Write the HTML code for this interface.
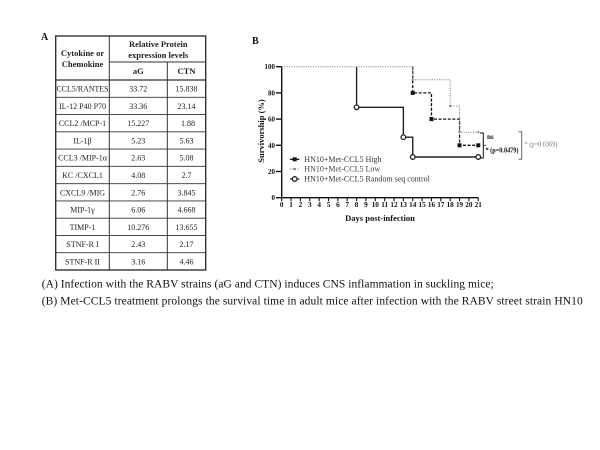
<!DOCTYPE html>
<html><head><meta charset="utf-8"><style>
html,body{margin:0;padding:0;background:#fff;}
svg{display:block;}
text{font-family:"Liberation Serif",serif;}
</style></head><body>
<svg width="600" height="450" viewBox="0 0 600 450" xmlns="http://www.w3.org/2000/svg">
<rect width="600" height="450" fill="#fff"/>
<!-- Panel A -->
<text x="41" y="40" font-size="10" font-weight="bold" fill="#111">A</text>
<g stroke="#333" fill="none">
<rect x="55.7" y="36" width="150" height="234" stroke-width="1.4"/>
<line x1="109.3" y1="36" x2="109.3" y2="270" stroke-width="1"/>
<line x1="167.3" y1="62" x2="167.3" y2="270" stroke-width="1"/>
<line x1="109.3" y1="62" x2="205.7" y2="62" stroke-width="1"/>
<line x1="55.7" y1="80" x2="205.7" y2="80" stroke-width="1.2"/>
<line x1="55.7" y1="97.27" x2="205.7" y2="97.27" stroke-width="0.9"/>
<line x1="55.7" y1="114.55" x2="205.7" y2="114.55" stroke-width="0.9"/>
<line x1="55.7" y1="131.82" x2="205.7" y2="131.82" stroke-width="0.9"/>
<line x1="55.7" y1="149.09" x2="205.7" y2="149.09" stroke-width="0.9"/>
<line x1="55.7" y1="166.36" x2="205.7" y2="166.36" stroke-width="0.9"/>
<line x1="55.7" y1="183.64" x2="205.7" y2="183.64" stroke-width="0.9"/>
<line x1="55.7" y1="200.91" x2="205.7" y2="200.91" stroke-width="0.9"/>
<line x1="55.7" y1="218.18" x2="205.7" y2="218.18" stroke-width="0.9"/>
<line x1="55.7" y1="235.45" x2="205.7" y2="235.45" stroke-width="0.9"/>
<line x1="55.7" y1="252.73" x2="205.7" y2="252.73" stroke-width="0.9"/>
</g>
<g font-size="8.5" font-weight="bold" fill="#222" text-anchor="middle">
<text x="82.5" y="56">Cytokine or</text>
<text x="82.5" y="67">Chemokine</text>
<text x="158.3" y="47">Relative Protein</text>
<text x="158.3" y="58">expression levels</text>
<text x="138.3" y="74">aG</text>
<text x="186.5" y="74">CTN</text>
</g>
<g font-size="8" fill="#222" text-anchor="middle">
<text x="82.5" y="91.6" textLength="52" lengthAdjust="spacingAndGlyphs">CCL5/RANTES</text><text x="138.3" y="91.6">33.72</text><text x="186.5" y="91.6">15.838</text>
<text x="82.5" y="108.9">IL-12 P40 P70</text><text x="138.3" y="108.9">33.36</text><text x="186.5" y="108.9">23.14</text>
<text x="82.5" y="126.2">CCL2 /MCP-1</text><text x="138.3" y="126.2">15.227</text><text x="188" y="126.2">1.88</text>
<text x="82.5" y="143.5">IL-1β</text><text x="138.3" y="143.5">5.23</text><text x="186.5" y="143.5">5.63</text>
<text x="82.5" y="160.7">CCL3 /MIP-1α</text><text x="138.3" y="160.7">2.63</text><text x="186.5" y="160.7">5.08</text>
<text x="82.5" y="178">KC /CXCL1</text><text x="138.3" y="178">4.08</text><text x="186.5" y="178">2.7</text>
<text x="82.5" y="195.3">CXCL9 /MIG</text><text x="138.3" y="195.3">2.76</text><text x="186.5" y="195.3">3.845</text>
<text x="82.5" y="212.5">MIP-1γ</text><text x="138.3" y="212.5">6.06</text><text x="186.5" y="212.5">4.668</text>
<text x="82.5" y="229.8">TIMP-1</text><text x="138.3" y="229.8">10.276</text><text x="186.5" y="229.8">13.655</text>
<text x="82.5" y="247.1">STNF-R I</text><text x="138.3" y="247.1">2.43</text><text x="186.5" y="247.1">2.17</text>
<text x="82.5" y="264.4">STNF-R II</text><text x="138.3" y="264.4">3.16</text><text x="186.5" y="264.4">4.46</text>
</g>
<!-- Panel B -->
<text x="252" y="44" font-size="10" font-weight="bold" fill="#111">B</text>
<!-- axes -->
<g stroke="#111" stroke-width="1.4" fill="none">
<line x1="281.7" y1="66.7" x2="281.7" y2="197.7"/>
<line x1="281.7" y1="197.7" x2="478.3" y2="197.7"/>
<line x1="276" y1="66.7" x2="281.7" y2="66.7"/>
<line x1="276" y1="92.9" x2="281.7" y2="92.9"/>
<line x1="276" y1="119.1" x2="281.7" y2="119.1"/>
<line x1="276" y1="145.3" x2="281.7" y2="145.3"/>
<line x1="276" y1="171.5" x2="281.7" y2="171.5"/>
<line x1="276" y1="197.7" x2="281.7" y2="197.7"/>
</g>
<g stroke="#111" stroke-width="1.1">
<path d="M281.7 197.7v3.5M291.06 197.7v3.5M300.42 197.7v3.5M309.78 197.7v3.5M319.14 197.7v3.5M328.5 197.7v3.5M337.86 197.7v3.5M347.22 197.7v3.5M356.58 197.7v3.5M365.94 197.7v3.5M375.3 197.7v3.5M384.66 197.7v3.5M394.02 197.7v3.5M403.38 197.7v3.5M412.74 197.7v3.5M422.1 197.7v3.5M431.46 197.7v3.5M440.82 197.7v3.5M450.18 197.7v3.5M459.54 197.7v3.5M468.9 197.7v3.5M478.26 197.7v3.5"/>
</g>
<g font-size="7" font-weight="bold" fill="#111" text-anchor="end">
<text x="275" y="69.2">100</text>
<text x="275" y="95.4">80</text>
<text x="275" y="121.6">60</text>
<text x="275" y="147.8">40</text>
<text x="275" y="174">20</text>
<text x="275" y="200.2">0</text>
</g>
<g font-size="7.2" font-weight="bold" fill="#111" text-anchor="middle" style="font-family:'Liberation Sans',sans-serif">
<text x="281.7" y="207">0</text><text x="291.06" y="207">1</text><text x="300.42" y="207">2</text><text x="309.78" y="207">3</text><text x="319.14" y="207">4</text><text x="328.5" y="207">5</text><text x="337.86" y="207">6</text><text x="347.22" y="207">7</text><text x="356.58" y="207">8</text><text x="365.94" y="207">9</text><text x="375.3" y="207">10</text><text x="384.66" y="207">11</text><text x="394.02" y="207">12</text><text x="403.38" y="207">13</text><text x="412.74" y="207">14</text><text x="422.1" y="207">15</text><text x="431.46" y="207">16</text><text x="440.82" y="207">17</text><text x="450.18" y="207">18</text><text x="459.54" y="207">19</text><text x="468.9" y="207">20</text><text x="478.26" y="207">21</text>
</g>
<text x="380" y="221" font-size="8.5" font-weight="bold" fill="#111" text-anchor="middle">Days post-infection</text>
<text transform="translate(264,131) rotate(-90)" font-size="8.5" font-weight="bold" fill="#111" text-anchor="middle">Survivorship (%)</text>
<!-- control series -->
<path d="M356.58 66.7V107.3H403.38V137.2H412.74V157H478.26" fill="none" stroke="#222" stroke-width="1.4"/>
<g fill="#fff" stroke="#222" stroke-width="1.3">
<circle cx="356.58" cy="107.3" r="2.3"/>
<circle cx="403.38" cy="137.2" r="2.3"/>
<circle cx="412.74" cy="157" r="2.3"/>
<circle cx="478.26" cy="157" r="2.3"/>
</g>
<!-- High series -->
<path d="M412.74 66.7V92.9H431.46V119.1H459.54V145.3H478.26" fill="none" stroke="#111" stroke-width="1.3" stroke-dasharray="3,1.6"/>
<g fill="#111">
<rect x="410.7" y="90.9" width="4" height="4"/>
<rect x="429.5" y="117.1" width="4" height="4"/>
<rect x="457.5" y="143.3" width="4" height="4"/>
<rect x="476.3" y="143.3" width="4" height="4"/>
</g>
<!-- Low series -->
<path d="M281.7 66.7H412.74V79.8H450.18V106H459.54V132.2H478.26" fill="none" stroke="#888" stroke-width="1" stroke-dasharray="1.2,1.2"/>
<g fill="#888">
<circle cx="412.74" cy="79.8" r="1.2"/>
<circle cx="450.18" cy="106" r="1.2"/>
<circle cx="459.54" cy="132.2" r="1.2"/>
<circle cx="478.26" cy="132.2" r="1.2"/>
</g>
<!-- brackets -->
<path d="M480 133H483.3V158H480" fill="none" stroke="#111" stroke-width="1"/>
<line x1="483.3" y1="145.3" x2="486" y2="145.3" stroke="#111" stroke-width="0.8"/>
<text x="487" y="139" font-size="7" font-weight="bold" fill="#111">ns</text>
<text x="485.5" y="152.5" font-size="7.5" font-weight="bold" fill="#111" textLength="33" lengthAdjust="spacingAndGlyphs">* (p=0.0479)</text>
<path d="M518.5 131.7H521.7V159.3H518.5" fill="none" stroke="#666" stroke-width="1"/>
<text x="524.5" y="146.5" font-size="7.5" fill="#777" textLength="33" lengthAdjust="spacingAndGlyphs">* (p=0.0369)</text>
<!-- legend -->
<g>
<line x1="290" y1="159.3" x2="299.3" y2="159.3" stroke="#111" stroke-width="1.3"/>
<rect x="292.7" y="157.3" width="4" height="4" fill="#111"/>
<text x="304.3" y="162" font-size="8" fill="#333">HN10+Met-CCL5 High</text>
<line x1="290" y1="169" x2="299.3" y2="169" stroke="#888" stroke-width="1" stroke-dasharray="1.2,1.2"/>
<circle cx="294.7" cy="169" r="1.3" fill="#888"/>
<text x="304.3" y="171.7" font-size="8" fill="#444">HN10+Met-CCL5 Low</text>
<line x1="290" y1="179" x2="299.3" y2="179" stroke="#222" stroke-width="1.3"/>
<circle cx="294.7" cy="179" r="2.3" fill="#fff" stroke="#222" stroke-width="1.3"/>
<text x="304.3" y="181.7" font-size="8" fill="#333">HN10+Met-CCL5 Random seq control</text>
</g>
<!-- captions -->
<text x="41.7" y="287.3" font-size="11.5" fill="#111" textLength="452" lengthAdjust="spacing">(A) Infection with the RABV strains (aG and CTN) induces CNS inflammation in suckling mice;</text>
<text x="41.7" y="304.7" font-size="11.5" fill="#111" textLength="541" lengthAdjust="spacing">(B) Met-CCL5 treatment prolongs the survival time in adult mice after infection with the RABV street strain HN10</text>
</svg>
</body></html>
